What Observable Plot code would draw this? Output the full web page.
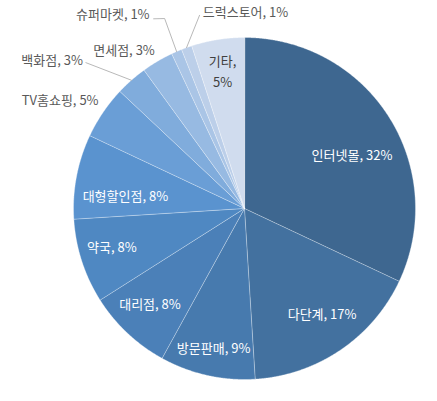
<!DOCTYPE html>
<html>
<head>
<meta charset="utf-8">
<script src="https://cdn.jsdelivr.net/npm/d3@7"></script>
<script src="https://cdn.jsdelivr.net/npm/@observablehq/plot@0.6"></script>
<style>
  html, body { margin: 0; padding: 0; background: #fff; }
  svg { display: block; }
</style>
</head>
<body>
<div id="chart"></div>
<script>
// ---- data ----
const categories = ["인터넷몰", "다단계", "방문판매", "대리점", "약국", "대형할인점", "TV홈쇼핑", "백화점", "면세점", "슈퍼마켓", "드럭스토어", "기타"];
const shares = [32, 17, 9, 8, 8, 8, 5, 3, 3, 1, 1, 5];

// ---- style / layout ----
const sliceColors = ["#3e6790", "#43719f", "#477aae", "#4b80b8", "#4f88c2", "#5a93cf", "#6a9ed6", "#80acdc", "#97bae2", "#aac5e6", "#bccfe9", "#d0dcee"];
// label placement: angle nudge (deg) from slice middle, radius factor
const labelTurn = [6.3, -1.9, -0.2, 1.2, 1.3, -5, -3.8, -11, -6.8, -10.8, 20.1, 0];
const labelRadius = [0.70, 0.77, 0.84, 0.79, 0.81, 0.70, 1.25, 1.42, 1.16, 1.37, 1.146, 0.82];
const labelTone = ["in", "in", "in", "in", "in", "in", "out", "out", "out", "out", "out", "dark"];
// leader lines: polar points (deg, radius factor) before reaching the slice edge
const leaderStart = {"백화점": [[312.6, 1.26]], "슈퍼마켓": [[334.4, 1.23], [337.2, 1.205]], "드럭스토어": [[346.9, 1.16]]};

const rows = categories.map((c, i) => ({category: c, value: shares[i], i}));
const arcs = d3.pie().sort(null).value(d => d.value).startAngle(0).endAngle(2 * Math.PI)(rows);

const polar = (deg, r) => { const a = deg * Math.PI / 180; return {x: r * Math.sin(a), y: r * Math.cos(a)}; };

// slice polygons
const slicePts = [];
for (const a of arcs) {
  const cat = a.data.category;
  slicePts.push({category: cat, x: 0, y: 0});
  const n = Math.max(2, Math.ceil((a.endAngle - a.startAngle) / 0.005));
  for (let k = 0; k <= n; k++) {
    const t = a.startAngle + (a.endAngle - a.startAngle) * k / n;
    slicePts.push({category: cat, x: Math.sin(t), y: Math.cos(t)});
  }
}

// labels
const labels = arcs.map(a => {
  const i = a.data.i;
  const mid = (a.startAngle + a.endAngle) / 2 * 180 / Math.PI;
  const p = polar(mid + labelTurn[i], labelRadius[i]);
  const text = labelTone[i] === "dark" ? `${a.data.category},\n${a.data.value}%` : `${a.data.category}, ${a.data.value}%`;
  return {...p, text, tone: labelTone[i]};
});

// leaders
const leaderPts = [];
for (const a of arcs) {
  const cat = a.data.category;
  if (!leaderStart[cat]) continue;
  for (const [deg, r] of leaderStart[cat]) leaderPts.push({category: cat, ...polar(deg, r)});
  const mid = (a.startAngle + a.endAngle) / 2 * 180 / Math.PI;
  leaderPts.push({category: cat, ...polar(mid, 1.0)});
}

const font = "'Noto Sans CJK KR', 'Malgun Gothic', sans-serif";

const chart = Plot.plot({
  width: 437,
  height: 401,
  margin: 0,
  style: {background: "#fff", fontFamily: font},
  x: {domain: [-1, 1], range: [73, 415], axis: null},
  y: {domain: [-1, 1], range: [379, 37], axis: null},
  color: {domain: categories, range: sliceColors},
  marks: [
    Plot.line(slicePts, {x: "x", y: "y", z: "category", fill: "category", stroke: "#ffffff", strokeWidth: 0.6, strokeOpacity: 0.55, curve: "linear-closed"}),
    Plot.line(leaderPts, {x: "x", y: "y", z: "category", stroke: "#a6a6a6", strokeWidth: 0.8}),
    Plot.text(labels.filter(d => d.tone === "in"), {x: "x", y: "y", text: "text", fill: "#ffffff", fontSize: 13, fontFamily: font}),
    Plot.text(labels.filter(d => d.tone === "out"), {x: "x", y: "y", text: "text", fill: "#595959", fontSize: 13, fontFamily: font}),
    Plot.text(labels.filter(d => d.tone === "dark"), {x: "x", y: "y", text: "text", fill: "#404040", fontSize: 13, lineHeight: 1.55, fontFamily: font})
  ]
});
document.getElementById("chart").appendChild(chart);
</script>
</body>
</html>
